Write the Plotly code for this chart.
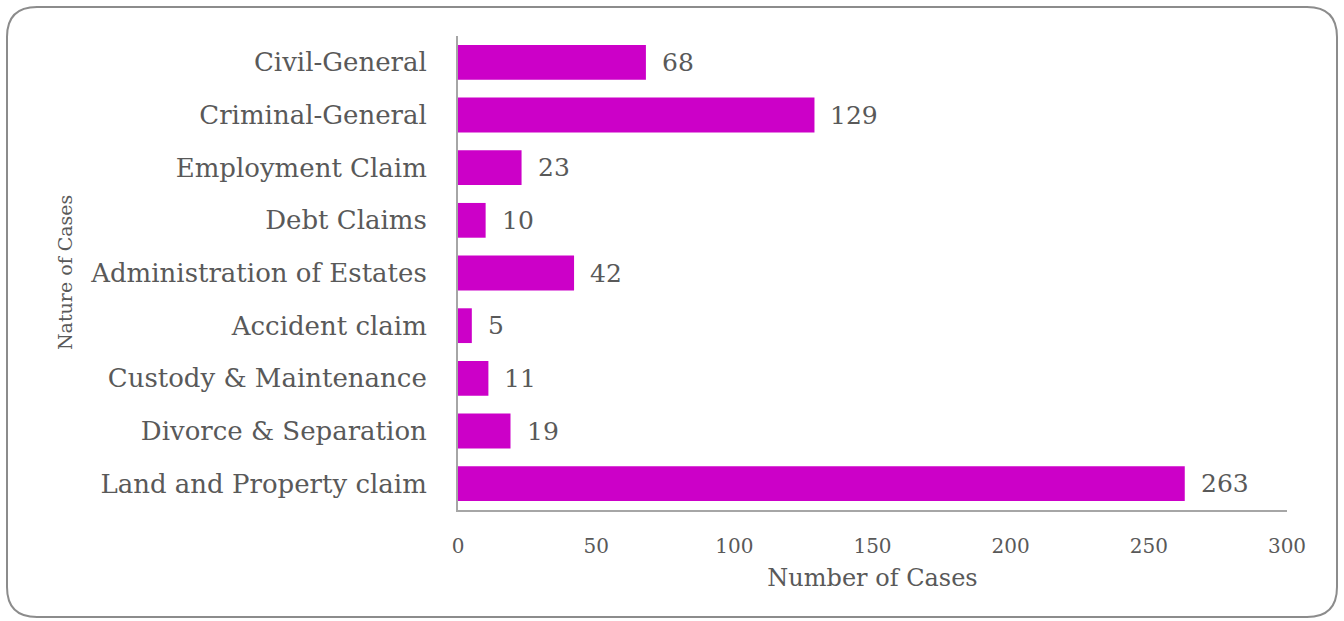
import plotly.graph_objects as go

# Case counts by nature of case
categories = [
    "Civil-General",
    "Criminal-General",
    "Employment Claim",
    "Debt Claims",
    "Administration of Estates",
    "Accident claim",
    "Custody & Maintenance",
    "Divorce & Separation",
    "Land and Property claim",
]
cases = [68, 129, 23, 10, 42, 5, 11, 19, 263]
x_ticks = [0, 50, 100, 150, 200, 250, 300]

W, H = 1344, 621
L, R, T, B = 458, 57, 36, 111
plot_w = W - L - R
plot_h = H - T - B

FONT = "DejaVu Serif"
GREY = "#595959"
BAR = "#CC00C8"


def px_to_paper(px, py):
    return (px - L) / plot_w, (H - B - py) / plot_h


def rounded_rect(x0, y0, x1, y1, r):
    def p(x, y):
        a, b = px_to_paper(x, y)
        return f"{a:.5f},{b:.5f}"
    return (
        f"M {p(x0 + r, y0)} L {p(x1 - r, y0)} Q {p(x1, y0)} {p(x1, y0 + r)} "
        f"L {p(x1, y1 - r)} Q {p(x1, y1)} {p(x1 - r, y1)} "
        f"L {p(x0 + r, y1)} Q {p(x0, y1)} {p(x0, y1 - r)} "
        f"L {p(x0, y0 + r)} Q {p(x0, y0)} {p(x0 + r, y0)} Z"
    )


fig = go.Figure(
    go.Bar(
        x=cases,
        y=categories,
        orientation="h",
        marker=dict(color=BAR, line=dict(width=0)),
        hoverinfo="x+y",
    )
)

# value labels to the right of each bar
for c, v in zip(categories, cases):
    fig.add_annotation(
        x=v, y=c, xref="x", yref="y", text=str(v), showarrow=False,
        xanchor="left", xshift=14, font=dict(family=FONT, size=25, color=GREY),
    )

# vertical axis title
ax, ay = px_to_paper(65, 273)
fig.add_annotation(
    x=ax, y=ay, xref="paper", yref="paper", text="Nature of Cases",
    textangle=-90, showarrow=False, xanchor="center", yanchor="middle",
    font=dict(family=FONT, size=19, color=GREY),
)

# rounded frame around the chart
fig.add_shape(
    type="path", xref="paper", yref="paper",
    path=rounded_rect(7, 7, 1337, 617, 30),
    line=dict(color="#8c8c8c", width=2), layer="below",
)

fig.update_layout(
    width=W, height=H,
    margin=dict(l=L, r=R, t=T, b=B),
    paper_bgcolor="white", plot_bgcolor="white",
    bargap=0.34, showlegend=False,
    font=dict(family=FONT, color=GREY),
)
fig.update_xaxes(
    range=[0, 300], tickvals=x_ticks, ticks="", showgrid=False, zeroline=False,
    showline=True, linecolor="#a6a6a6", linewidth=2,
    tickfont=dict(family=FONT, size=20, color=GREY), ticklabelstandoff=17,
    title=dict(text="Number of Cases", font=dict(family=FONT, size=24, color=GREY), standoff=12),
)
fig.update_yaxes(
    autorange="reversed", ticks="", showgrid=False, zeroline=False,
    showline=True, linecolor="#a6a6a6", linewidth=2,
    tickfont=dict(family=FONT, size=26, color=GREY), ticklabelstandoff=24,
)

fig.write_html("out.html")
